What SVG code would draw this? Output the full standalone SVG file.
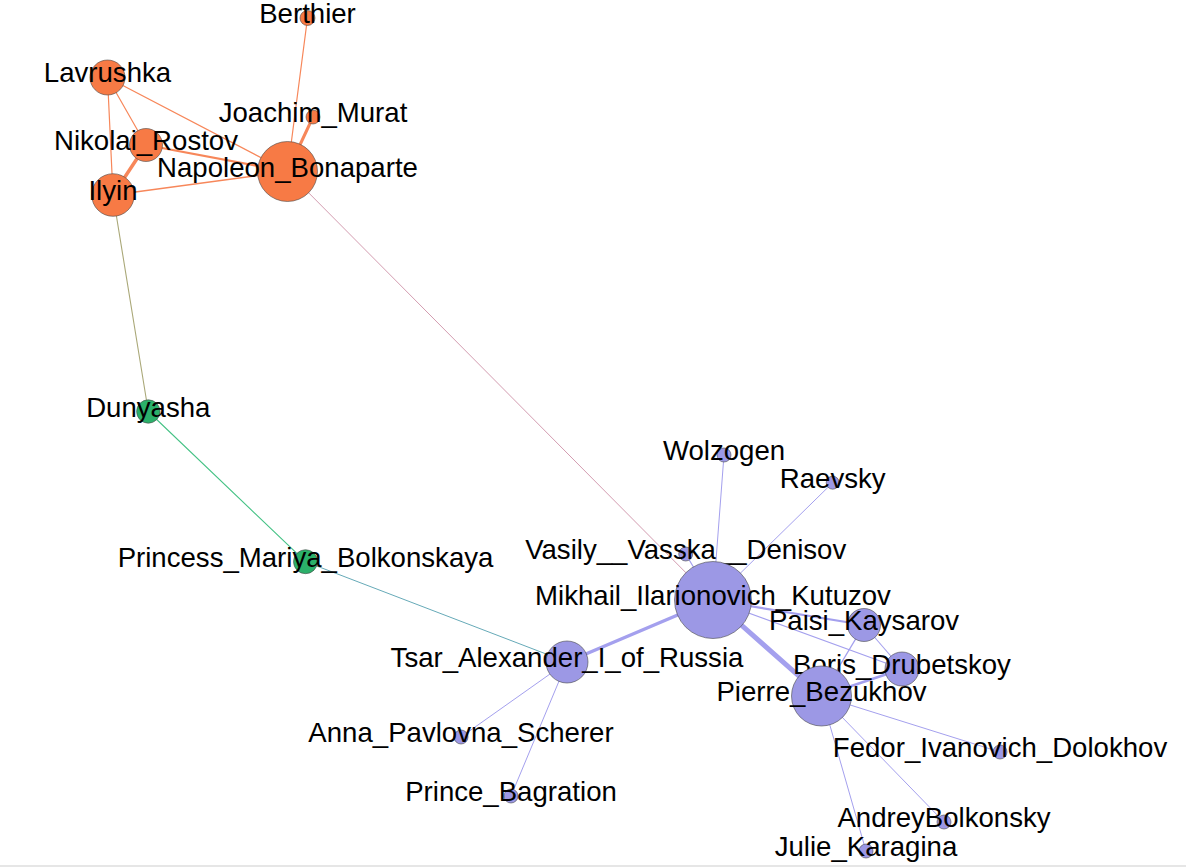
<svg xmlns="http://www.w3.org/2000/svg" width="1186" height="867" viewBox="0 0 1186 867">
<style>
.n circle{stroke:#4a4a4a;stroke-width:0.6}
.o{fill:#f77a45}
.p{fill:#9c98e5}
.g{fill:#2bb06a}
text{font-family:"Liberation Sans",Arial,sans-serif;font-size:27.6px;fill:#000;text-anchor:middle}
#edges line{fill:none;stroke-linecap:round}
.eo{stroke:#f7875a}
.ep{stroke:#a4a0ee}
</style>
<rect width="1186" height="867" fill="#fff"/>
<rect x="0" y="865" width="1186" height="2" fill="#e6e6e6"/>
<g id="edges">
<line class="eo" x1="307.5" y1="18" x2="287.5" y2="171.5" stroke-width="1.2"/>
<line class="eo" x1="313" y1="117" x2="287.5" y2="171.5" stroke-width="3"/>
<line class="eo" x1="107.5" y1="77.5" x2="287.5" y2="171.5" stroke-width="1.2"/>
<line class="eo" x1="107.5" y1="77.5" x2="146" y2="145" stroke-width="1.2"/>
<line class="eo" x1="107.5" y1="77.5" x2="113" y2="195" stroke-width="1.2"/>
<line class="eo" x1="146" y1="145" x2="287.5" y2="171.5" stroke-width="2.2"/>
<line class="eo" x1="146" y1="145" x2="113" y2="195" stroke-width="3.5"/>
<line class="eo" x1="113" y1="195" x2="287.5" y2="171.5" stroke-width="1.4"/>
<line x1="113" y1="195" x2="148.3" y2="411.5" stroke="#aaa878" stroke-width="1.1"/>
<line x1="287.5" y1="171.5" x2="713" y2="600" stroke="#d39cb0" stroke-width="1"/>
<line x1="148.3" y1="411.5" x2="305.5" y2="561.7" stroke="#45c285" stroke-width="1.1"/>
<line x1="305.5" y1="561.7" x2="567" y2="662" stroke="#66aab8" stroke-width="1"/>
<line class="ep" x1="567" y1="662" x2="713" y2="600" stroke-width="3.5"/>
<line class="ep" x1="713" y1="600" x2="821.5" y2="696" stroke-width="5"/>
<line class="ep" x1="713" y1="600" x2="724" y2="455" stroke-width="1"/>
<line class="ep" x1="713" y1="600" x2="832.7" y2="482.7" stroke-width="1"/>
<line class="ep" x1="713" y1="600" x2="685.7" y2="554" stroke-width="1.2"/>
<line class="ep" x1="713" y1="600" x2="864" y2="625" stroke-width="2.2"/>
<line class="ep" x1="713" y1="600" x2="902" y2="669" stroke-width="1.1"/>
<line class="ep" x1="864" y1="625" x2="821.5" y2="696" stroke-width="1.4"/>
<line class="ep" x1="864" y1="625" x2="902" y2="669" stroke-width="1.1"/>
<line class="ep" x1="821.5" y1="696" x2="902" y2="669" stroke-width="2.6"/>
<line class="ep" x1="567" y1="662" x2="461" y2="737" stroke-width="1"/>
<line class="ep" x1="567" y1="662" x2="511" y2="796" stroke-width="1"/>
<line class="ep" x1="821.5" y1="696" x2="1000" y2="752" stroke-width="1"/>
<line class="ep" x1="821.5" y1="696" x2="944" y2="822" stroke-width="1"/>
<line class="ep" x1="821.5" y1="696" x2="866" y2="851" stroke-width="1"/>
</g>
<g id="node-berthier" class="n"><circle class="o" cx="307.5" cy="18" r="7.5"/><text x="307.5" y="23">Berthier</text></g>
<g id="node-lavrushka" class="n"><circle class="o" cx="107.5" cy="77.5" r="17.5"/><text x="107.5" y="82">Lavrushka</text></g>
<g id="node-joachim" class="n"><circle class="o" cx="313" cy="117" r="7"/><text x="313" y="122">Joachim_Murat</text></g>
<g id="node-nikolai" class="n"><circle class="o" cx="146" cy="145" r="16.5"/><text x="146" y="150">Nikolai_Rostov</text></g>
<g id="node-ilyin" class="n"><circle class="o" cx="113" cy="195" r="21.3"/></g>
<g id="node-napoleon" class="n"><circle class="o" cx="287.5" cy="171.5" r="30"/><text x="287.5" y="176.5">Napoleon_Bonaparte</text></g>
<g id="label-ilyin"><text x="113" y="200">Ilyin</text></g>
<g id="node-dunyasha" class="n"><circle class="g" cx="148.3" cy="411.5" r="11.7"/><text x="148.3" y="416.5">Dunyasha</text></g>
<g id="node-princess" class="n"><circle class="g" cx="305.5" cy="561.7" r="12"/><text x="305.5" y="566.7">Princess_Mariya_Bolkonskaya</text></g>
<g id="node-wolzogen" class="n"><circle class="p" cx="724" cy="455" r="7"/><text x="724" y="460">Wolzogen</text></g>
<g id="node-raevsky" class="n"><circle class="p" cx="832.7" cy="482.7" r="6.5"/><text x="832.7" y="487.7">Raevsky</text></g>
<g id="node-denisov" class="n"><circle class="p" cx="685.7" cy="554" r="7"/><text x="685.7" y="559">Vasily__Vasska__Denisov</text></g>
<g id="node-kutuzov" class="n"><circle class="p" cx="713" cy="600" r="38.5"/><text x="713" y="605">Mikhail_Ilarionovich_Kutuzov</text></g>
<g id="node-paisi" class="n"><circle class="p" cx="864" cy="625" r="16.5"/><text x="864" y="630">Paisi_Kaysarov</text></g>
<g id="node-tsar" class="n"><circle class="p" cx="567" cy="662" r="21"/><text x="567" y="667">Tsar_Alexander_I_of_Russia</text></g>
<g id="node-boris" class="n"><circle class="p" cx="902" cy="669" r="17"/><text x="902" y="674">Boris_Drubetskoy</text></g>
<g id="node-pierre" class="n"><circle class="p" cx="821.5" cy="696" r="30"/><text x="821.5" y="701">Pierre_Bezukhov</text></g>
<g id="node-anna" class="n"><circle class="p" cx="461" cy="737" r="7"/><text x="461" y="742">Anna_Pavlovna_Scherer</text></g>
<g id="node-fedor" class="n"><circle class="p" cx="1000" cy="752" r="7"/><text x="1000" y="757">Fedor_Ivanovich_Dolokhov</text></g>
<g id="node-bagration" class="n"><circle class="p" cx="511" cy="796" r="7"/><text x="511" y="801">Prince_Bagration</text></g>
<g id="node-andrey" class="n"><circle class="p" cx="944" cy="822" r="7"/><text x="944" y="827">AndreyBolkonsky</text></g>
<g id="node-julie" class="n"><circle class="p" cx="866" cy="851" r="7"/><text x="866" y="856">Julie_Karagina</text></g>
</svg>
